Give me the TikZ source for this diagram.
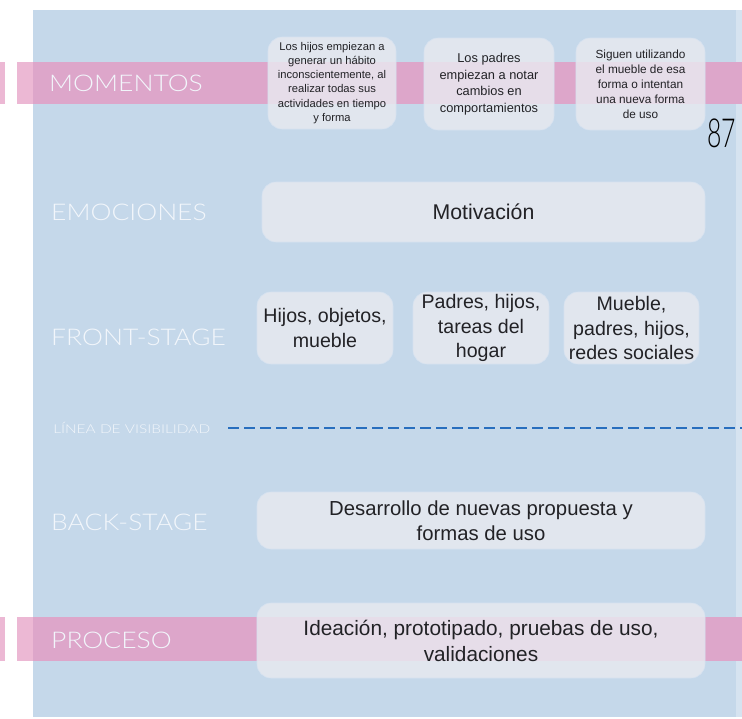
\documentclass[tikz,border=0pt]{standalone}
\usepackage{fontspec}
\setmainfont{Liberation Sans}
\newfontfamily\lblfont{Lato Light}
\usetikzlibrary{positioning}
\definecolor{bgblue}{RGB}{197,216,234}
\definecolor{bgbluelt}{RGB}{214,227,240}
\definecolor{bandpink}{RGB}{221,166,202}
\definecolor{bandpinklt}{RGB}{236,184,212}
\definecolor{boxfill}{RGB}{232,234,240}
\definecolor{boxedge}{RGB}{214,226,240}
\definecolor{txt}{RGB}{34,34,38}
\definecolor{lbl}{RGB}{242,246,251}
\definecolor{dashblue}{RGB}{40,110,190}
\tikzset{
  card/.style={draw=boxedge, line width=0.6pt, fill=boxfill, fill opacity=0.82, text opacity=1,
    rounded corners=14pt, align=center, text=txt, inner sep=0pt},
  rowlabel/.style={anchor=west, text=lbl, font=\lblfont\fontsize{23}{26}\selectfont, inner sep=0pt, xscale=1.15},
  bigtxt/.style={font=\fontsize{19.6}{24.5}\selectfont},
}
\begin{document}
\begin{tikzpicture}[x=1pt,y=-1pt]
\useasboundingbox (0,0) rectangle (742,718);
\fill[white] (0,0) rectangle (742,718);
\fill[bgblue] (33,10) rectangle (736,717);
\fill[bgbluelt] (736,10) rectangle (742,717);
% pink bands
\fill[bandpinklt] (0,62) rectangle (5,104);
\fill[bandpinklt] (17,62) rectangle (33,104);
\fill[bandpink] (33,62) rectangle (742,104);
\fill[bandpinklt] (0,617) rectangle (5,661);
\fill[bandpinklt] (17,617) rectangle (33,661);
\fill[bandpink] (33,617) rectangle (742,661);

% labels
\node[rowlabel] (lmom) at (49,83) {MOMENTOS};
\node[rowlabel] (lemo) at (51,212) {EMOCIONES};
\node[rowlabel] (lfront) at (51,337) {FRONT-STAGE};
\node[rowlabel, font=\lblfont\fontsize{12.2}{14}\selectfont, xscale=1.1] (lvis) at (53,428) {LÍNEA DE VISIBILIDAD};
\node[rowlabel] (lback) at (51,522) {BACK-STAGE};
\node[rowlabel] (lproc) at (51,640) {PROCESO};

% MOMENTOS cards
\node[card, minimum width=128pt, minimum height=92pt, font=\fontsize{11.2}{14.2}\selectfont] (m1) at (332,83)
  {Los hijos empiezan a\\generar un hábito\\inconscientemente, al\\realizar todas sus\\actividades en tiempo\\y forma};
\node[card, minimum width=130pt, minimum height=92pt, font=\fontsize{12.8}{16.5}\selectfont] (m2) at (489,84)
  {Los padres\\empiezan a notar\\cambios en\\comportamientos};
\node[card, minimum width=129pt, minimum height=92pt, font=\fontsize{11.8}{15}\selectfont] (m3) at (640.5,84)
  {Siguen utilizando\\el mueble de esa\\forma o intentan\\una nueva forma\\de uso};

\node[font=\lblfont\fontsize{40}{42}\selectfont, text=black, anchor=west, inner sep=0pt, xscale=0.62] (pg) at (707,133) {87};

% EMOCIONES
\node[card, minimum width=443pt, minimum height=60pt, font=\fontsize{21.3}{24}\selectfont] (emo) at (483.5,212) {Motivación};

% FRONT-STAGE
\node[card, minimum width=136pt, minimum height=72pt, bigtxt] (f1) at (325,328) {Hijos, objetos,\\mueble};
\node[card, minimum width=136pt, minimum height=72pt, bigtxt] (f2) at (481,328) {Padres, hijos,\\tareas del\\hogar};
\node[card, minimum width=135pt, minimum height=72pt, bigtxt] (f3) at (631.5,328) {Mueble,\\padres, hijos,\\redes sociales};

% line of visibility
\coordinate (vstart) at (228,428);
\coordinate (vend) at (742,428);
\draw[dashblue, line width=2.6pt, dash pattern=on 11pt off 5pt] (vstart) -- (vend);

% BACK-STAGE
\node[card, minimum width=448pt, minimum height=57pt, font=\fontsize{20.3}{25}\selectfont] (back) at (481,520.5)
  {Desarrollo de nuevas propuesta y\\formas de uso};

% PROCESO
\node[card, minimum width=448pt, minimum height=75pt, font=\fontsize{20.8}{26}\selectfont] (proc) at (481,640.5)
  {Ideación, prototipado, pruebas de uso,\\validaciones};
\end{tikzpicture}
\end{document}
